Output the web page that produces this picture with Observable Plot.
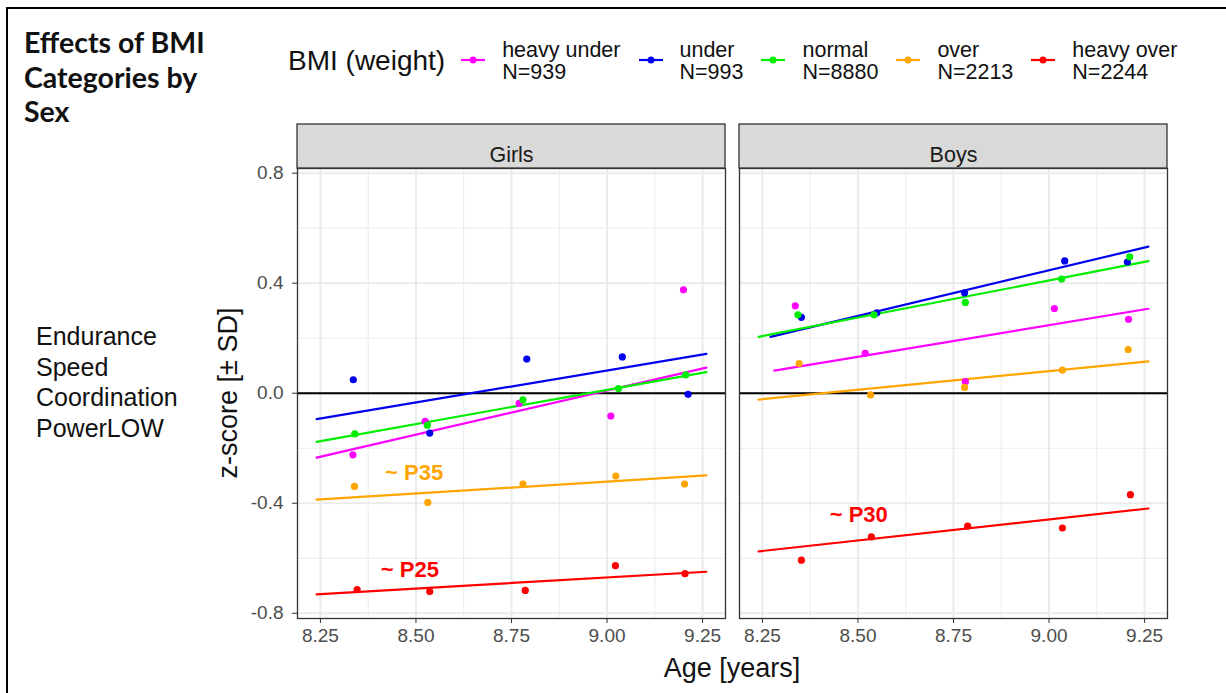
<!DOCTYPE html>
<html><head><meta charset="utf-8">
<script src="https://cdn.jsdelivr.net/npm/d3@7"></script>
<script src="https://cdn.jsdelivr.net/npm/@observablehq/plot@0.6"></script>
<style>
body{margin:0;background:#fff;}
#wrap{position:relative;width:1226px;height:693px;overflow:hidden;font-family:"Liberation Sans",Arial,sans-serif;color:#000;}
#wrap svg.plot{position:absolute;left:0;top:0;}
.abs{position:absolute;white-space:nowrap;}
#title{left:24px;top:25px;font-family:Lato,"Noto Sans",sans-serif;font-weight:bold;font-size:28.5px;line-height:34.5px;color:#111;}
#sideText{left:36px;top:321px;font-size:25px;line-height:30.7px;color:#111;}
#legend{left:288px;top:36px;display:flex;align-items:center;height:50px;}
#legend .ltitle{font-size:28px;margin-right:16px;color:#111;}
#legend .lab{font-size:21.5px;line-height:22px;margin-left:17px;margin-right:18px;color:#111;}
#ytitle{left:228px;top:393px;transform:translate(-50%,-50%) rotate(-90deg);font-size:27px;color:#111;}
#xtitle{left:732px;top:668px;transform:translate(-50%,-50%);font-size:27px;color:#111;}
#topline{left:7px;top:7px;width:1226px;height:2px;background:#000;}
#leftline{left:6px;top:7px;width:1.5px;height:700px;background:#000;}
</style></head>
<body><div id="wrap">
<div id="topline" class="abs"></div>
<div id="leftline" class="abs"></div>
<div id="title" class="abs">Effects of BMI<br>Categories by<br>Sex</div>
<div id="sideText" class="abs">Endurance<br>Speed<br>Coordination<br>PowerLOW</div>
<div id="legend" class="abs"></div>
<div id="ytitle" class="abs">z-score [± SD]</div>
<div id="xtitle" class="abs">Age [years]</div>
</div>
<script>
// ---- data ----
const sexes = ["Girls", "Boys"];
const categories = ["heavy under", "under", "normal", "over", "heavy over"];
const counts = [939, 993, 8880, 2213, 2244];
const colors = ["#ff00ff", "#0000ee", "#00ee00", "#ffa500", "#ff0000"];

// point ages / z-scores per category (rows follow `categories`)
const girlsAge = [
  [8.335, 8.524, 8.770, 9.010, 9.200],
  [8.336, 8.536, 8.790, 9.040, 9.212],
  [8.340, 8.530, 8.780, 9.030, 9.206],
  [8.339, 8.531, 8.780, 9.023, 9.203],
  [8.346, 8.536, 8.786, 9.022, 9.204]
];
const girlsZ = [
  [-0.224, -0.102, -0.037, -0.083, 0.376],
  [0.049, -0.145, 0.124, 0.132, -0.004],
  [-0.148, -0.116, -0.024, 0.017, 0.067],
  [-0.339, -0.397, -0.330, -0.301, -0.330],
  [-0.714, -0.721, -0.717, -0.627, -0.656]
];
const boysAge = [
  [8.336, 8.519, 8.781, 9.014, 9.208],
  [8.352, 8.549, 8.779, 9.041, 9.205],
  [8.343, 8.542, 8.781, 9.033, 9.211],
  [8.346, 8.533, 8.779, 9.035, 9.207],
  [8.352, 8.535, 8.787, 9.035, 9.213]
];
const boysZ = [
  [0.318, 0.145, 0.042, 0.308, 0.269],
  [0.276, 0.292, 0.365, 0.481, 0.477],
  [0.285, 0.285, 0.330, 0.415, 0.496],
  [0.108, -0.006, 0.021, 0.084, 0.159],
  [-0.607, -0.522, -0.483, -0.490, -0.369]
];

// fitted lines: start age, start z, end z (end age shared)
const girlsFitStartAge = [8.24, 8.24, 8.24, 8.24, 8.24];
const girlsFitStartZ = [-0.234, -0.094, -0.177, -0.387, -0.731];
const girlsFitEndZ = [0.093, 0.143, 0.077, -0.299, -0.649];
const boysFitStartAge = [8.281, 8.271, 8.24, 8.24, 8.24];
const boysFitStartZ = [0.082, 0.205, 0.205, -0.023, -0.575];
const boysFitEndZ = [0.307, 0.533, 0.480, 0.116, -0.419];
const fitEndAge = 9.26;

// percentile annotations
const annoSex = ["Girls", "Girls", "Boys"];
const annoText = ["~ P35", "~ P25", "~ P30"];
const annoCat = ["over", "heavy over", "heavy over"];
const annoAge = [8.495, 8.484, 8.502];
const annoZ = [-0.290, -0.643, -0.443];

const xMajor = [8.25, 8.5, 8.75, 9.0, 9.25];
const xMinor = [8.375, 8.625, 8.875, 9.125];
const yMajor = [-0.8, -0.4, 0.0, 0.4, 0.8];
const yMinor = [-0.6, -0.2, 0.2, 0.6];

// ---- build tables ----
const points = [], fits = [];
const bySex = {Girls: [girlsAge, girlsZ, girlsFitStartAge, girlsFitStartZ, girlsFitEndZ],
               Boys: [boysAge, boysZ, boysFitStartAge, boysFitStartZ, boysFitEndZ]};
for (const sex of sexes) {
  const [A, Z, fsa, fsz, fez] = bySex[sex];
  categories.forEach((cat, i) => {
    A[i].forEach((a, j) => points.push({sex, cat, age: a, z: Z[i][j]}));
    fits.push({sex, cat, age: fsa[i], z: fsz[i]});
    fits.push({sex, cat, age: fitEndAge, z: fez[i]});
  });
}
const annos = annoText.map((t, i) => ({sex: annoSex[i], cat: annoCat[i], text: t, age: annoAge[i], z: annoZ[i]}));

// ---- plot ----
const W = 1226, H = 693, mT = 168, mB = 75, mL = 297, mR = 59;
const xDomain = [8.19, 9.31], yDomain = [-0.819, 0.817];
const pxPerY = (H - mT - mB) / (yDomain[1] - yDomain[0]);
const stripH = 44 / pxPerY;

const chart = Plot.plot({
  width: W, height: H, marginTop: mT, marginBottom: mB, marginLeft: mL, marginRight: mR,
  style: {fontFamily: "Liberation Sans, Arial, sans-serif", background: "transparent", overflow: "visible"},
  fx: {domain: sexes, paddingInner: 0.0317, paddingOuter: 0, axis: null, label: null},
  x: {domain: xDomain},
  y: {domain: yDomain},
  color: {domain: categories, range: colors},
  marks: [
    Plot.gridX({ticks: xMinor, stroke: "#ebebeb", strokeOpacity: 1, strokeWidth: 1}),
    Plot.gridY({ticks: yMinor, stroke: "#ebebeb", strokeOpacity: 1, strokeWidth: 1}),
    Plot.gridX({ticks: xMajor, stroke: "#ebebeb", strokeOpacity: 1, strokeWidth: 2}),
    Plot.gridY({ticks: yMajor, stroke: "#ebebeb", strokeOpacity: 1, strokeWidth: 2}),
    Plot.ruleY([0], {stroke: "#000", strokeWidth: 2}),
    Plot.line(fits, {fx: "sex", x: "age", y: "z", z: "cat", stroke: "cat", strokeWidth: 2.2}),
    Plot.dot(points, {fx: "sex", x: "age", y: "z", fill: "cat", r: 3.6}),
    Plot.text(annos, {fx: "sex", x: "age", y: "z", text: "text", fill: "cat", fontWeight: "bold", fontSize: 22}),
    Plot.frame({stroke: "#333", strokeWidth: 1.3}),
    Plot.rect(sexes, {fx: d => d, x1: () => xDomain[0], x2: () => xDomain[1],
      y1: () => yDomain[1], y2: () => yDomain[1] + stripH, fill: "#d9d9d9", stroke: "#333", strokeWidth: 1.3}),
    Plot.text(sexes, {fx: d => d, text: d => d, frameAnchor: "top", dy: -22, fontSize: 21.5, fill: "#1a1a1a"}),
    Plot.axisX({ticks: xMajor, tickFormat: d => d.toFixed(2), fontSize: 19, tickSize: 5, tickPadding: 5,
      stroke: "#333", fill: "#4d4d4d", label: null}),
    Plot.axisY({ticks: yMajor, tickFormat: d => d.toFixed(1), fontSize: 19, tickSize: 5, tickPadding: 9,
      stroke: "#333", fill: "#4d4d4d", label: null})
  ]
});
chart.classList.add("plot");
document.getElementById("wrap").prepend(chart);

// ---- legend ----
const legend = document.getElementById("legend");
const lt = document.createElement("div");
lt.className = "ltitle"; lt.textContent = "BMI (weight)";
legend.appendChild(lt);
categories.forEach((cat, i) => {
  const key = document.createElementNS("http://www.w3.org/2000/svg", "svg");
  key.setAttribute("width", 24); key.setAttribute("height", 12);
  key.innerHTML = `<line x1="0" x2="24" y1="6" y2="6" stroke="${colors[i]}" stroke-width="2.2"/><circle cx="12" cy="6" r="3.5" fill="${colors[i]}"/>`;
  key.style.marginTop = "-3px";
  legend.appendChild(key);
  const lab = document.createElement("div");
  lab.className = "lab";
  lab.innerHTML = `${cat}<br>N=${counts[i]}`;
  legend.appendChild(lab);
});
</script>
</body></html>
